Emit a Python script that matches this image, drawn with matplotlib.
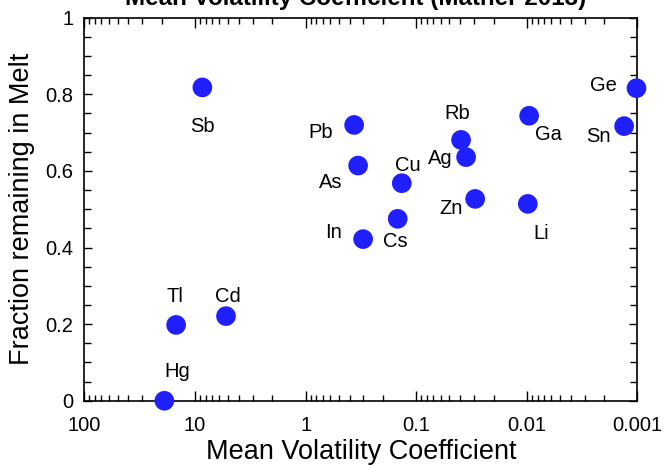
import numpy as np
import matplotlib
matplotlib.use("Agg")
import matplotlib.pyplot as plt
from matplotlib.ticker import LogLocator, MultipleLocator, FixedLocator, FixedFormatter, NullFormatter

plt.rcParams['font.family'] = ['Liberation Sans', 'DejaVu Sans']

elements = ['Hg', 'Tl', 'Cd', 'Sb', 'Pb', 'As', 'Cu', 'Cs', 'In',
            'Rb', 'Ag', 'Zn', 'Ga', 'Li', 'Sn', 'Ge']
volatility = [18.9, 14.8, 5.24, 8.57, 0.364, 0.335, 0.135, 0.147, 0.302,
              0.0393, 0.0354, 0.0293, 0.00953, 0.0098, 0.00132, 0.00102]
fraction = [0.0, 0.198, 0.221, 0.818, 0.720, 0.614, 0.568, 0.475, 0.422,
            0.681, 0.636, 0.527, 0.744, 0.514, 0.717, 0.816]

# label offsets in points (dx, dy to the visual centre of the text) and alignment
label_pos = {
    'Hg': (9, 22, 'center'), 'Tl': (-1, 21.5, 'center'), 'Cd': (1, 15, 'center'),
    'Sb': (0, -27, 'center'), 'Pb': (-15, -4, 'right'), 'As': (-11, -11, 'right'),
    'Cu': (4, 14, 'center'), 'Cs': (-2, -15, 'center'), 'In': (-15, 6, 'right'),
    'Rb': (-3, 20, 'center'), 'Ag': (-10, 0, 'right'), 'Zn': (-9, -6, 'right'),
    'Ga': (4, -12, 'left'), 'Li': (10, -20, 'center'), 'Sn': (-10, -6.5, 'right'),
    'Ge': (-14, 3, 'right'),
}
label_size = 14.5
half_cap = 0.358 * label_size

fig = plt.figure(figsize=(6.64, 4.66), dpi=100)
ax = fig.add_axes([0.127, 0.140, 0.833, 0.822])

ax.scatter(volatility, fraction, s=200, color='#1f1fff', edgecolors='none',
           zorder=3, clip_on=False)

for name, x, y in zip(elements, volatility, fraction):
    dx, dy, ha = label_pos[name]
    ax.annotate(name, (x, y), xytext=(dx, dy - half_cap), textcoords='offset points',
                ha=ha, va='baseline', fontsize=label_size)

ax.set_xscale('log')
ax.set_xlim(100, 0.001)
ax.set_ylim(0, 1)

ax.xaxis.set_major_locator(FixedLocator([100, 10, 1, 0.1, 0.01, 0.001]))
ax.xaxis.set_major_formatter(FixedFormatter(['100', '10', '1', '0.1', '0.01', '0.001']))
ax.xaxis.set_minor_locator(LogLocator(base=10, subs=np.arange(2, 10)))
ax.xaxis.set_minor_formatter(NullFormatter())

ax.yaxis.set_minor_locator(MultipleLocator(0.05))
ax.set_yticks([0, 0.2, 0.4, 0.6, 0.8, 1])
ax.set_yticklabels(['0', '0.2', '0.4', '0.6', '0.8', '1'])

ax.tick_params(which='both', direction='in', top=True, right=True,
               labelsize=14.5, width=1.0)
ax.tick_params(axis='x', which='major', length=7, pad=11)
ax.tick_params(axis='x', which='minor', length=4)
ax.tick_params(axis='y', which='major', length=6, pad=8)
ax.tick_params(axis='y', which='minor', length=5)
for sp in ax.spines.values():
    sp.set_linewidth(1.2)

ax.set_xlabel('Mean Volatility Coefficient', fontsize=19.5, labelpad=3)
ax.set_ylabel('Fraction remaining in Melt', fontsize=19.5, labelpad=7)

fig.text(0.535, 0.989, 'Mean Volatility Coefficient (Mather 2013)',
         ha='center', va='baseline', fontsize=17.4, fontweight='bold')

fig.savefig('out.png', dpi=100)
